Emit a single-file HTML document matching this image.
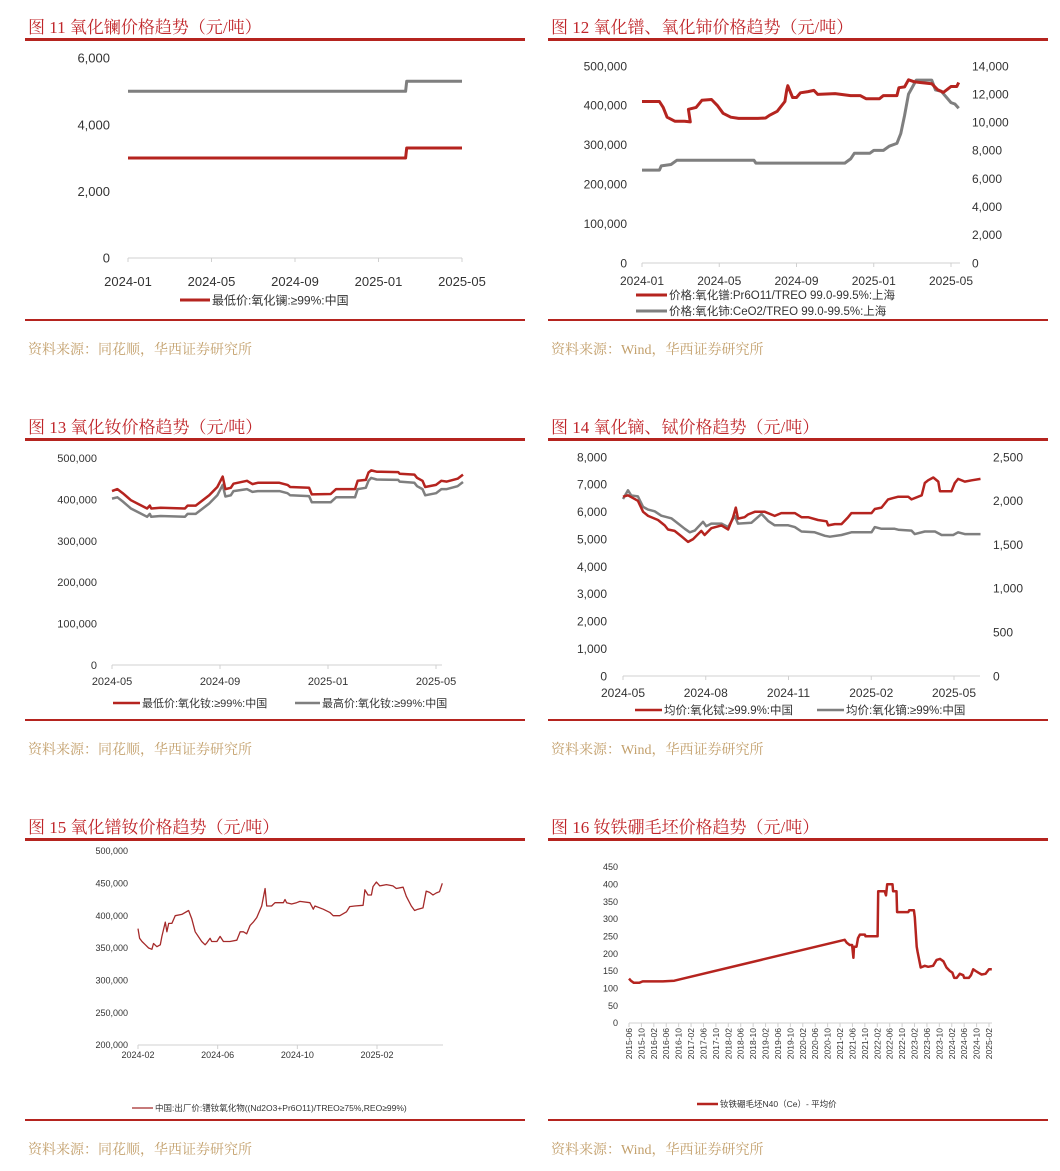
<!DOCTYPE html>
<html><head><meta charset="utf-8">
<style>
html,body{margin:0;padding:0;background:#fff;}
svg{display:block;}
.tt{font-family:"Liberation Serif","Noto Serif CJK SC",serif;font-size:17px;fill:#c0262a;}
.src{font-family:"Liberation Serif","Noto Serif CJK SC",serif;font-size:14px;fill:#c3a06c;}
.ax{font-family:"Liberation Sans","Noto Sans CJK SC",sans-serif;fill:#333;}
</style></head>
<body>
<svg id="page" width="1060" height="1171" viewBox="0 0 1060 1171" xmlns="http://www.w3.org/2000/svg"></svg>
<script>
// ---------- Chart 11 data ----------
const c11Months=[0,13.3,13.35,16];
const c11Gray=[5000,5000,5300,5300];
const c11Red=[3000,3000,3300,3300];
const c11YTicks=[0,2000,4000,6000];
const c11YLabels=["0","2,000","4,000","6,000"];
const c11XTicks=[0,4,8,12,16];
const c11XLabels=["2024-01","2024-05","2024-09","2025-01","2025-05"];
// ---------- Chart 12 data ----------
const c12PrMonths=[0,0.9,1.1,1.3,1.7,2.2,2.5,2.4,2.8,3.1,3.6,3.9,4.2,4.6,5,6,6.4,6.6,7,7.4,7.5,7.55,7.8,8.0,8.2,8.6,8.9,9.1,10,10.3,10.8,11.3,11.6,12.3,12.5,13.2,13.3,13.6,13.8,14.1,14.4,15,15.3,15.6,15.8,16,16.3,16.4];
const c12PrVals=[410000,410000,395000,370000,360000,360000,358000,390000,395000,413000,415000,400000,380000,370000,367000,367000,368000,375000,385000,410000,440000,450000,420000,420000,432000,435000,438000,428000,430000,428000,425000,425000,417000,417000,425000,425000,445000,447000,465000,460000,458000,455000,440000,433000,440000,448000,448000,458000];
const c12CeMonths=[0,0.9,1,1.5,1.8,5.8,5.9,10.5,10.8,11,11.8,12,12.5,12.8,13.2,13.4,13.6,13.8,14,14.2,15,15.2,15.5,16,16.2,16.4];
const c12CeVals=[6600,6600,6900,7000,7300,7300,7100,7100,7400,7800,7800,8000,8000,8300,8500,9200,10500,12000,12500,13000,13000,12300,12200,11400,11300,11000];
const c12YLTicks=[0,100000,200000,300000,400000,500000];
const c12YLLabels=["0","100,000","200,000","300,000","400,000","500,000"];
const c12YRTicks=[0,2000,4000,6000,8000,10000,12000,14000];
const c12YRLabels=["0","2,000","4,000","6,000","8,000","10,000","12,000","14,000"];
const c12XTicks=[0,4,8,12,16];
const c12XLabels=["2024-01","2024-05","2024-09","2025-01","2025-05"];
// ---------- Chart 13 data ----------
const c13Months=[0,0.2,0.4,0.7,1.0,1.3,1.4,1.45,1.8,2.7,2.8,3.1,3.3,3.6,3.9,4.1,4.2,4.4,4.5,5.0,5.2,5.4,6.2,6.5,6.6,7.3,7.4,8.1,8.3,9.0,9.1,9.4,9.5,9.6,9.8,10.6,10.65,11.2,11.3,11.5,11.6,12.0,12.2,12.4,12.8,13.0];
const c13Low=[420000,425000,415000,398000,388000,378000,385000,378000,380000,378000,385000,385000,395000,410000,430000,455000,425000,428000,438000,445000,437000,440000,440000,435000,430000,428000,412000,413000,425000,425000,445000,447000,465000,470000,467000,466000,462000,460000,452000,445000,430000,435000,445000,443000,450000,460000];
const c13High=[402000,405000,395000,378000,368000,358000,365000,358000,360000,358000,365000,365000,375000,390000,410000,435000,407000,410000,420000,425000,418000,420000,420000,415000,410000,408000,393000,393000,405000,405000,425000,428000,445000,452000,448000,447000,443000,440000,432000,425000,410000,415000,425000,425000,432000,442000];
const c13YTicks=[0,100000,200000,300000,400000,500000];
const c13YLabels=["0","100,000","200,000","300,000","400,000","500,000"];
const c13XTicks=[0,4,8,12];
const c13XLabels=["2024-05","2024-09","2025-01","2025-05"];
// ---------- Chart 14 data ----------
const c14TbMonths=[0,.18,.54,.73,.91,1.27,1.51,1.63,1.87,2.12,2.36,2.54,2.84,2.96,3.2,3.57,3.81,3.99,4.09,4.17,4.41,4.53,4.78,5.14,5.5,5.74,6.23,6.47,6.71,7.07,7.38,7.44,7.68,7.92,8.16,8.28,9.01,9.13,9.37,9.61,9.79,9.98,10.34,10.46,10.83,10.94,11.06,11.25,11.43,11.49,11.91,12.03,12.15,12.39,12.64,12.96];
const c14TbVals=[6550,6600,6400,6000,5850,5700,5500,5350,5300,5100,4900,5000,5300,5150,5400,5500,5350,5800,6150,5750,5800,5900,6000,6000,5850,5950,5950,5800,5800,5700,5650,5500,5550,5550,5800,5950,5950,6100,6150,6450,6500,6550,6550,6450,6600,7050,7150,7250,7100,6750,6750,7050,7200,7100,7150,7200];
const c14DyMonths=[0,.18,.3,.54,.73,.91,1.15,1.39,1.75,2.0,2.24,2.42,2.6,2.9,3.02,3.2,3.57,3.81,4.05,4.17,4.66,5.02,5.26,5.5,5.99,6.23,6.47,6.95,7.32,7.5,7.92,8.28,9.01,9.13,9.37,9.85,9.98,10.46,10.58,10.94,11.31,11.55,11.97,12.15,12.39,12.96];
const c14DyVals=[2020,2120,2060,2050,1930,1900,1880,1830,1800,1740,1680,1640,1660,1760,1710,1740,1740,1700,1830,1740,1750,1850,1770,1720,1720,1700,1650,1640,1600,1590,1610,1640,1640,1700,1680,1680,1670,1660,1620,1650,1650,1610,1610,1640,1620,1620];
const c14YLTicks=[0,1000,2000,3000,4000,5000,6000,7000,8000];
const c14YLLabels=["0","1,000","2,000","3,000","4,000","5,000","6,000","7,000","8,000"];
const c14YRTicks=[0,500,1000,1500,2000,2500];
const c14YRLabels=["0","500","1,000","1,500","2,000","2,500"];
const c14XTicks=[0,3,6,9,12];
const c14XLabels=["2024-05","2024-08","2024-11","2025-02","2025-05"];
// ---------- Chart 15 data ----------
const c15Months=[0,.08,.2,.37,.53,.7,.78,.95,1.12,1.2,1.37,1.45,1.54,1.7,1.87,2.2,2.54,2.7,2.87,3.2,3.37,3.46,3.62,3.7,3.96,4.12,4.29,4.62,4.96,5.13,5.29,5.46,5.63,5.79,5.96,6.21,6.38,6.46,6.71,6.88,7.3,7.38,7.46,7.71,7.96,8.13,8.63,8.8,8.88,9.3,9.63,9.8,10.13,10.47,10.63,10.88,11.3,11.39,11.55,11.72,11.8,11.97,12.14,12.47,12.8,12.97,13.31,13.47,13.72,13.89,14.06,14.31,14.47,14.64,14.81,14.97,15.14,15.28];
const c15Vals=[380000,365000,360000,355000,350000,348000,357000,352000,355000,368000,390000,375000,388000,388000,400000,402000,408000,395000,375000,360000,355000,358000,365000,360000,360000,368000,360000,360000,362000,375000,375000,372000,385000,390000,397000,415000,442000,415000,415000,420000,420000,425000,420000,418000,420000,422000,420000,410000,415000,410000,405000,400000,400000,406000,414000,415000,416000,440000,432000,432000,445000,452000,446000,448000,446000,442000,444000,430000,415000,408000,410000,412000,438000,436000,432000,435000,437000,450000];
const c15YTicks=[200000,250000,300000,350000,400000,450000,500000];
const c15YLabels=["200,000","250,000","300,000","350,000","400,000","450,000","500,000"];
const c15XTicks=[0,4,8,12];
const c15XLabels=["2024-02","2024-06","2024-10","2025-02"];
// ---------- Chart 16 data ----------
const c16Months=[0,.6,1.5,3.3,4.4,10.9,14.6,69.5,70.1,71.1,71.9,72.3,72.5,73.3,73.8,74.4,76,76.2,80.1,80.3,82.4,82.8,83.2,84.9,85.1,86.2,86.4,90,90.3,91.8,92.1,92.7,93,94,95.3,96.4,98,99.1,100.2,101.3,102.3,103.4,104.2,104.8,105.6,106.6,107.7,108,109.5,110.2,110.9,111.7,112.6,113.6,114.9,116,116.9];
const c16Vals=[128,122,116,116,120,120,122,240,232,225,225,188,220,220,245,255,255,250,250,380,380,368,400,400,380,380,320,320,325,325,305,220,205,160,165,162,165,182,185,178,160,150,145,130,130,142,138,130,130,138,155,150,145,140,142,155,155];
const c16YTicks=[0,50,100,150,200,250,300,350,400,450];
const c16XTickLabels=["2015-06","2015-10","2016-02","2016-06","2016-10","2017-02","2017-06","2017-10","2018-02","2018-06","2018-10","2019-02","2019-06","2019-10","2020-02","2020-06","2020-10","2021-02","2021-06","2021-10","2022-02","2022-06","2022-10","2023-02","2023-06","2023-10","2024-02","2024-06","2024-10","2025-02"];

const NS="http://www.w3.org/2000/svg";
const svg=document.getElementById('page');
const RED="#b5241f", GRAY="#7f7f7f", AXC="#d0d0d0";
function mk(tag,attrs,parent){const e=document.createElementNS(NS,tag);for(const k in attrs)e.setAttribute(k,attrs[k]);(parent||svg).appendChild(e);return e;}
function lin(d0,d1,r0,r1){return v=>r0+(v-d0)*(r1-r0)/(d1-d0);}
function txt(x,y,s,size,anchor,cls,fill,parent){const t=mk('text',{x:x,y:y,'font-size':size,'text-anchor':anchor||'start',class:cls||'ax'},parent);if(fill)t.setAttribute('fill',fill);t.textContent=s;return t;}
function path(xs,ys,sx,sy,color,w,parent){let d='';for(let i=0;i<xs.length;i++)d+=(i?'L':'M')+sx(xs[i]).toFixed(1)+','+sy(ys[i]).toFixed(1);return mk('path',{d:d,fill:'none',stroke:color,'stroke-width':w,'stroke-linejoin':'round'},parent);}
function group(name){const g=mk('g',{});return g;}

function panel(x0,y0,title,source,name){
  const g=group(name);
  const t=txt(x0+3,y0+33,title,17,'start','tt',null,g);
  
  
  mk('rect',{x:x0,y:y0+38,width:500,height:3,fill:RED},g);
  mk('rect',{x:x0,y:y0+319,width:500,height:2,fill:RED},g);
  const s=txt(x0+3,y0+354,source,14,'start','src',null,g);
  
  
  return g;
}
function xAxis(g,sx,y,x1,x2,ticks,labels,size,ly){
  mk('line',{x1:x1,y1:y,x2:x2,y2:y,stroke:AXC,'stroke-width':1},g);
  ticks.forEach((t,i)=>{mk('line',{x1:sx(t),y1:y,x2:sx(t),y2:y+4,stroke:AXC},g);
    const l=txt(sx(t),ly,labels[i],size,'middle','ax',null,g);
    
    });
}
function yAxis(g,sy,ticks,labels,x,size,anchor,fill){
  ticks.forEach((t,i)=>{const l=txt(x,sy(t)+size*0.36,labels[i],size,anchor,'ax',fill,g);
    
    });
}
function legend(g,x,y,color,w,len,label,size,fill){
  const lg=mk('g',{},g);
  
  
  mk('line',{x1:x,y1:y,x2:x+len,y2:y,stroke:color,'stroke-width':w},lg);
  txt(x+len+2,y+size*0.36,label,size,'start','ax',fill,lg);
}

// Chart 11
(function(){
  const g=panel(25,0,"图 11 氧化镧价格趋势（元/吨）","资料来源：同花顺，华西证券研究所","chart-11-lanthanum");
  const sx=lin(0,16,128,462), sy=lin(0,6000,258,58);
  yAxis(g,sy,c11YTicks,c11YLabels,110,13,'end');
  xAxis(g,sx,258,128,462,c11XTicks,c11XLabels,13,286);
  path(c11Months,c11Gray,sx,sy,GRAY,3,g);
  path(c11Months,c11Red,sx,sy,RED,3,g);
  legend(g,180,300,RED,3,30,"最低价:氧化镧:≥99%:中国",12);
})();
// Chart 12
(function(){
  const g=panel(548,0,"图 12 氧化镨、氧化铈价格趋势（元/吨）","资料来源：Wind，华西证券研究所","chart-12-pr-ce");
  const sx=lin(0,16,642,951), sy=lin(0,500000,263,66), sy2=lin(0,14000,263,66);
  yAxis(g,sy,c12YLTicks,c12YLLabels,627,12,'end');
  yAxis(g,sy2,c12YRTicks,c12YRLabels,972,12,'start');
  xAxis(g,sx,263,642,960,c12XTicks,c12XLabels,12,285);
  path(c12CeMonths,c12CeVals,sx,sy2,GRAY,3,g);
  path(c12PrMonths,c12PrVals,sx,sy,RED,3,g);
  legend(g,636,295,RED,3,31,"价格:氧化镨:Pr6O11/TREO 99.0-99.5%:上海",11.5);
  legend(g,636,311,GRAY,3,31,"价格:氧化铈:CeO2/TREO 99.0-99.5%:上海",11.5);
})();
// Chart 13
(function(){
  const g=panel(25,400,"图 13 氧化钕价格趋势（元/吨）","资料来源：同花顺，华西证券研究所","chart-13-neodymium");
  const sx=lin(0,12,112,436), sy=lin(0,500000,665,458);
  yAxis(g,sy,c13YTicks,c13YLabels,97,11,'end');
  xAxis(g,sx,665,112,442,c13XTicks,c13XLabels,11,685);
  path(c13Months,c13High,sx,sy,GRAY,2.5,g);
  path(c13Months,c13Low,sx,sy,RED,2.5,g);
  legend(g,113,703,RED,2.5,27,"最低价:氧化钕:≥99%:中国",11);
  legend(g,295,703,GRAY,2.5,25,"最高价:氧化钕:≥99%:中国",11);
})();
// Chart 14
(function(){
  const g=panel(548,400,"图 14 氧化镝、铽价格趋势（元/吨）","资料来源：Wind，华西证券研究所","chart-14-dy-tb");
  const sx=lin(0,12,623,954), sy=lin(0,8000,676,457), sy2=lin(0,2500,676,457);
  yAxis(g,sy,c14YLTicks,c14YLLabels,607,12,'end');
  yAxis(g,sy2,c14YRTicks,c14YRLabels,993,12,'start');
  xAxis(g,sx,676,623,980,c14XTicks,c14XLabels,12,697);
  path(c14DyMonths,c14DyVals,sx,sy2,GRAY,2.5,g);
  path(c14TbMonths,c14TbVals,sx,sy,RED,2.5,g);
  legend(g,635,710,RED,2.5,27,"均价:氧化铽:≥99.9%:中国",11.5);
  legend(g,817,710,GRAY,2.5,27,"均价:氧化镝:≥99%:中国",11.5);
})();
// Chart 15
(function(){
  const g=panel(25,800,"图 15 氧化镨钕价格趋势（元/吨）","资料来源：同花顺，华西证券研究所","chart-15-prnd");
  const sx=lin(0,12,138,377), sy=lin(200000,500000,1045,851);
  yAxis(g,sy,c15YTicks,c15YLabels,128,9,'end','#555');
  xAxis(g,sx,1045,138,443,c15XTicks,c15XLabels,9,1058);
  path(c15Months,c15Vals,sx,sy,"#a52a2a",1.3,g);
  legend(g,132,1108,"#a52a2a",1.3,21,"中国:出厂价:镨钕氧化物((Nd2O3+Pr6O11)/TREO≥75%,REO≥99%)",8.5,'#555');
})();
// Chart 16
(function(){
  const g=panel(548,800,"图 16 钕铁硼毛坯价格趋势（元/吨）","资料来源：Wind，华西证券研究所","chart-16-ndfeb");
  const sx=lin(0,116,629,989), sy=lin(0,450,1023,867);
  yAxis(g,sy,c16YTicks,c16YTicks.map(String),618,9,'end','#555');
  mk('line',{x1:629,y1:1023,x2:992,y2:1023,stroke:AXC},g);
  c16XTickLabels.forEach((l,i)=>{const x=sx(i*4);
    mk('line',{x1:x,y1:1023,x2:x,y2:1027,stroke:AXC},g);
    const t=txt(0,0,l,8.5,'end','ax','#555',g);
    t.setAttribute('transform','translate('+(x+3)+',1028) rotate(-90)');
    
    });
  path(c16Months,c16Vals,sx,sy,RED,2.5,g);
  legend(g,697,1104,RED,2.5,21,"钕铁硼毛坯N40（Ce）- 平均价",8.5,'#555');
})();
</script>
</body></html>
